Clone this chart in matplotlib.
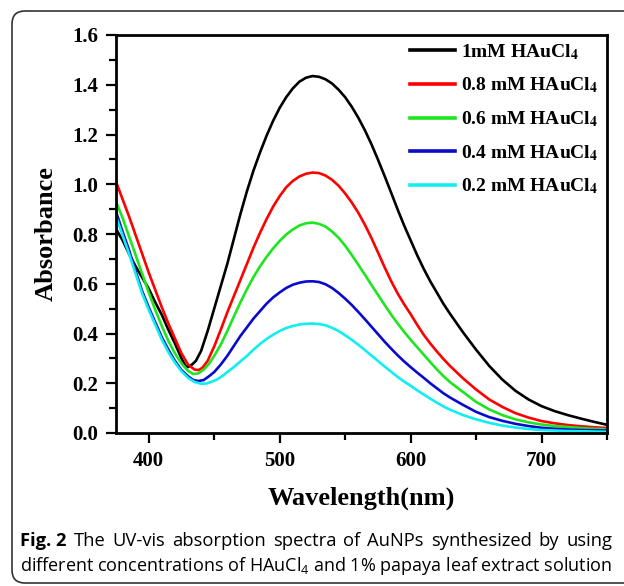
import matplotlib
matplotlib.use("Agg")
import matplotlib.pyplot as plt
from matplotlib.patches import FancyBboxPatch
from matplotlib.ticker import MultipleLocator

# UV-vis spectra, values
wl_1mM = [375, 380, 385, 390, 395, 400, 405, 410, 415, 420, 425, 428, 430, 433, 436, 440,
          445, 450, 455, 460, 465, 470, 475, 480, 485, 490, 495, 500, 505, 510, 515, 520,
          525, 530, 535, 540, 545, 550, 555, 560, 565, 570, 575, 580, 585, 590, 595, 600,
          605, 610, 615, 620, 625, 630, 640, 650, 660, 670, 680, 690, 700, 710, 720, 730,
          740, 750]
abs_1mM = [0.82, 0.775, 0.72, 0.67, 0.625, 0.58, 0.525, 0.475, 0.415, 0.36, 0.30, 0.27,
           0.265, 0.275, 0.29, 0.33, 0.41, 0.50, 0.59, 0.68, 0.78, 0.88, 0.972, 1.055, 1.128,
           1.195, 1.255, 1.307, 1.35, 1.385, 1.412, 1.428, 1.435, 1.432, 1.422, 1.405, 1.38,
           1.35, 1.312, 1.268, 1.218, 1.162, 1.10, 1.035, 0.968, 0.90, 0.835, 0.775, 0.715,
           0.66, 0.61, 0.565, 0.52, 0.48, 0.405, 0.335, 0.27, 0.215, 0.17, 0.135, 0.108,
           0.088, 0.072, 0.058, 0.045, 0.033]

wl_08 = [375, 380, 385, 390, 395, 400, 405, 410, 415, 420, 425, 430, 435, 438, 441, 445,
         450, 455, 460, 465, 470, 475, 480, 485, 490, 495, 500, 505, 510, 515, 520, 525,
         530, 535, 540, 545, 550, 555, 560, 565, 570, 575, 580, 585, 590, 595, 600, 605,
         610, 615, 620, 625, 630, 640, 650, 660, 670, 680, 690, 700, 710, 720, 730, 740, 750]
abs_08 = [1.01, 0.94, 0.87, 0.795, 0.72, 0.645, 0.575, 0.505, 0.44, 0.38, 0.32, 0.275,
          0.255, 0.253, 0.262, 0.29, 0.348, 0.415, 0.485, 0.55, 0.615, 0.68, 0.745, 0.805,
          0.86, 0.91, 0.952, 0.988, 1.013, 1.031, 1.042, 1.047, 1.045, 1.035, 1.018, 0.994,
          0.963, 0.927, 0.886, 0.838, 0.785, 0.727, 0.668, 0.612, 0.562, 0.518, 0.478,
          0.435, 0.395, 0.36, 0.328, 0.298, 0.27, 0.22, 0.175, 0.135, 0.105, 0.08, 0.062,
          0.048, 0.039, 0.032, 0.027, 0.023, 0.02]

wl_06 = [375, 380, 385, 390, 395, 400, 405, 410, 415, 420, 425, 430, 434, 438, 442, 446,
         450, 455, 460, 465, 470, 475, 480, 485, 490, 495, 500, 505, 510, 515, 520, 525,
         530, 535, 540, 545, 550, 555, 560, 565, 570, 575, 580, 585, 590, 595, 600, 605,
         610, 615, 620, 625, 630, 640, 650, 660, 670, 680, 690, 700, 710, 720, 730, 740, 750]
abs_06 = [0.93, 0.865, 0.79, 0.715, 0.64, 0.565, 0.495, 0.43, 0.37, 0.32, 0.28, 0.25, 0.237,
          0.24, 0.255, 0.278, 0.31, 0.355, 0.41, 0.468, 0.525, 0.578, 0.627, 0.67, 0.708,
          0.742, 0.772, 0.798, 0.818, 0.834, 0.843, 0.846, 0.841, 0.83, 0.81, 0.785, 0.753,
          0.716, 0.677, 0.637, 0.596, 0.556, 0.516, 0.477, 0.441, 0.407, 0.375, 0.345,
          0.315, 0.285, 0.256, 0.229, 0.205, 0.165, 0.125, 0.095, 0.072, 0.055, 0.043,
          0.034, 0.028, 0.024, 0.02, 0.017, 0.015]

wl_04 = [375, 380, 385, 390, 395, 400, 405, 410, 415, 420, 425, 430, 434, 438, 442, 446,
         450, 455, 460, 465, 470, 475, 480, 485, 490, 495, 500, 505, 510, 515, 520, 525,
         530, 535, 540, 545, 550, 555, 560, 565, 570, 575, 580, 585, 590, 595, 600, 605,
         610, 615, 620, 625, 630, 640, 650, 660, 670, 680, 690, 700, 710, 720, 730, 740, 750]
abs_04 = [0.89, 0.81, 0.735, 0.65, 0.57, 0.505, 0.445, 0.385, 0.335, 0.29, 0.253, 0.228,
          0.213, 0.209, 0.213, 0.228, 0.245, 0.275, 0.31, 0.35, 0.39, 0.425, 0.46, 0.49,
          0.52, 0.545, 0.565, 0.583, 0.596, 0.604, 0.609, 0.61, 0.607, 0.598, 0.583, 0.563,
          0.54, 0.515, 0.487, 0.458, 0.428, 0.398, 0.368, 0.34, 0.313, 0.288, 0.265, 0.243,
          0.222, 0.2, 0.18, 0.16, 0.143, 0.113, 0.085, 0.064, 0.049, 0.037, 0.028, 0.021,
          0.017, 0.014, 0.012, 0.011, 0.01]

wl_02 = [375, 380, 385, 390, 395, 400, 405, 410, 415, 420, 425, 430, 435, 440, 444, 448,
         452, 456, 460, 465, 470, 475, 480, 485, 490, 495, 500, 505, 510, 515, 520, 525,
         530, 535, 540, 545, 550, 555, 560, 565, 570, 575, 580, 585, 590, 595, 600, 605,
         610, 615, 620, 625, 630, 640, 650, 660, 670, 680, 690, 700, 710, 720, 730, 740, 750]
abs_02 = [0.87, 0.795, 0.72, 0.64, 0.56, 0.495, 0.435, 0.375, 0.325, 0.283, 0.248, 0.222,
          0.205, 0.198, 0.199, 0.206, 0.215, 0.228, 0.245, 0.265, 0.288, 0.31, 0.335, 0.358,
          0.378, 0.395, 0.41, 0.422, 0.43, 0.436, 0.439, 0.44, 0.438, 0.433, 0.423, 0.41,
          0.393, 0.375, 0.355, 0.334, 0.312, 0.29, 0.268, 0.247, 0.226, 0.207, 0.19, 0.172,
          0.155, 0.138, 0.122, 0.107, 0.094, 0.072, 0.055, 0.041, 0.03, 0.022, 0.016, 0.012,
          0.01, 0.008, 0.007, 0.006, 0.005]

labels = ["1mM HAuCl$_\\mathbf{4}$", "0.8 mM HAuCl$_\\mathbf{4}$", "0.6 mM HAuCl$_\\mathbf{4}$",
          "0.4 mM HAuCl$_\\mathbf{4}$", "0.2 mM HAuCl$_\\mathbf{4}$"]
colors = ["#000000", "#ff0000", "#1ee61e", "#0a0acc", "#11eef0"]

caption1 = ["The", "UV-vis", "absorption", "spectra", "of", "AuNPs", "synthesized", "by", "using"]
caption2 = "different concentrations of HAuCl$_4$ and 1% papaya leaf extract solution"

plt.rcParams["mathtext.fontset"] = "custom"
plt.rcParams["mathtext.rm"] = "Open Sans"
plt.rcParams["mathtext.bf"] = "Open Sans:bold"

fig = plt.figure(figsize=(6.24, 5.86), dpi=100)

# rounded frame around the whole figure, in pixel coordinates
bg = fig.add_axes([0, 0, 1, 1])
bg.set_xlim(0, 624)
bg.set_ylim(586, 0)
bg.axis("off")
bg.add_patch(FancyBboxPatch((12, 11), 640, 572, boxstyle="round,pad=0,rounding_size=13",
                            fc="white", ec="#333333", lw=1.2))

ax = fig.add_axes([116 / 624, 1 - 433 / 586, 491 / 624, 398 / 586])
series = [(wl_1mM, abs_1mM), (wl_08, abs_08), (wl_06, abs_06), (wl_04, abs_04), (wl_02, abs_02)]
for (x, y), lab, c in zip(series, labels, colors):
    ax.plot(x, y, color=c, lw=1.9, label=lab, solid_joinstyle="round")

ax.xaxis.set_major_locator(MultipleLocator(100))
ax.xaxis.set_minor_locator(MultipleLocator(50))
ax.yaxis.set_major_locator(MultipleLocator(0.2))
ax.yaxis.set_minor_locator(MultipleLocator(0.1))
ax.tick_params(which="both", direction="out", width=1.6, top=False, right=False)
ax.tick_params(which="major", length=7, pad=6)
ax.tick_params(which="minor", length=5)
for s in ax.spines.values():
    s.set_linewidth(2)
tickfont = {"family": "Liberation Serif", "weight": "bold", "size": 15}
yt = [0.0, 0.2, 0.4, 0.6, 0.8, 1.0, 1.2, 1.4, 1.6]
ax.set_yticks(yt)
ax.set_yticklabels(["%.1f" % v for v in yt], fontdict=tickfont)
ax.set_xticks([400, 500, 600, 700])
ax.set_xticklabels(["400", "500", "600", "700"], fontdict=tickfont)
ax.set_ylim(0, 1.6)
ax.set_xlim(375, 750)

ax.set_xlabel("Wavelength(nm)", family="Liberation Serif", weight="bold", size=19, labelpad=11)
ax.set_ylabel("Absorbance", family="Liberation Serif", weight="bold", size=19, labelpad=10)

leg = ax.legend(loc="upper left", bbox_to_anchor=((410 - 116) / 491, (433 - 42) / 398),
                frameon=False, prop={"family": "Liberation Serif", "weight": "bold", "size": 14},
                handlelength=2.3, handletextpad=0.3, labelspacing=0.72,
                borderpad=0, borderaxespad=0)
for t in leg.get_texts():
    t.set_math_fontfamily("stix")
for ln in leg.get_lines():
    ln.set_linewidth(2.6)

# caption, first line justified between x=20 and x=612 px
fig.canvas.draw()
r = fig.canvas.get_renderer()
cy1 = 1 - 541 / 586
words = [fig.text(0, cy1, "Fig. 2", family="Open Sans", weight="bold", size=13.2, va="center")]
for w in caption1:
    words.append(fig.text(0, cy1, w, family="Open Sans", size=13.2, va="center"))
widths = [t.get_window_extent(r).width for t in words]
gap = (612 - 20 - sum(widths)) / (len(words) - 1)
xpos = 20
for t, wd in zip(words, widths):
    t.set_x(xpos / 624)
    xpos += wd + gap
fig.text(20 / 624, 1 - 566 / 586, caption2, family="Open Sans", size=13, va="center")

fig.savefig("out.png", dpi=100)
